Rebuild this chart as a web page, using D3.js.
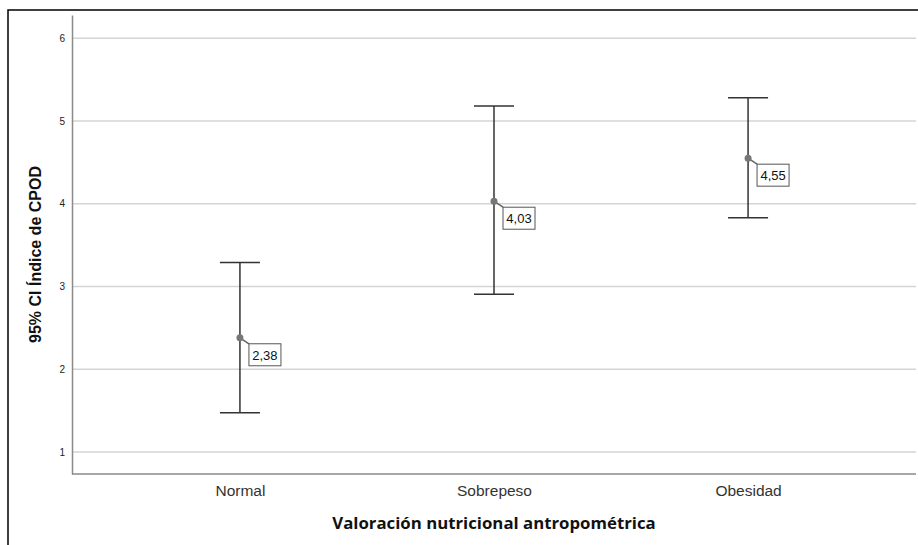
<!DOCTYPE html>
<html>
<head>
<meta charset="utf-8">
<script src="https://cdn.jsdelivr.net/npm/d3@7"></script>
<style>
  body { margin: 0; background: #fff; }
  svg { display: block; }
</style>
</head>
<body>
<svg id="chart" width="918" height="545"></svg>
<script>
// categories and CI values
const categories = ["Normal", "Sobrepeso", "Obesidad"];
const means = [2.38, 4.03, 4.55];
const lower = [1.475, 2.905, 3.83];
const upper = [3.29, 5.18, 5.28];
const meanLabels = ["2,38", "4,03", "4,55"];
const yTicks = [1, 2, 3, 4, 5, 6];

const svg = d3.select("#chart");

// plot area bounds
const plotLeft = 72, plotRight = 916, plotTop = 15, plotBottom = 474;

const x = d3.scalePoint().domain(categories).range([plotLeft, plotRight]).padding(0.661);
const y = d3.scaleLinear().domain([0.734, 6.28]).range([plotBottom, plotTop]);

// outer frame (only top and left edges are visible)
svg.append("path")
  .attr("d", `M8,545 V10 H918`)
  .attr("fill", "none")
  .attr("stroke", "#000")
  .attr("stroke-width", 1.5);

// gridlines
svg.append("g")
  .selectAll("line")
  .data(yTicks)
  .join("line")
  .attr("x1", plotLeft).attr("x2", plotRight)
  .attr("y1", d => y(d)).attr("y2", d => y(d))
  .attr("stroke", "#d4d4d4")
  .attr("stroke-width", 1.5);

// y axis
const yAxis = svg.append("g")
  .attr("transform", `translate(${plotLeft},0)`)
  .call(d3.axisLeft(y).tickValues(yTicks).tickSize(0).tickPadding(7).tickFormat(d3.format("d")));
yAxis.select(".domain").attr("stroke", "#8a8a8a").attr("stroke-width", 1.5);
yAxis.selectAll("text")
  .attr("font-family", "Liberation Sans, Arial, sans-serif")
  .attr("font-size", 10)
  .attr("fill", "#222");

// x axis
const xAxis = svg.append("g")
  .attr("transform", `translate(0,${plotBottom})`)
  .call(d3.axisBottom(x).tickSize(0).tickPadding(11));
xAxis.select(".domain").attr("stroke", "#8a8a8a").attr("stroke-width", 1.5)
  .attr("d", `M${plotLeft},0H${plotRight}`);
xAxis.selectAll("text")
  .attr("font-family", "Liberation Sans, Arial, sans-serif")
  .attr("font-size", 15.5)
  .attr("fill", "#333");

// error bars
const capHalf = 20;
const bars = svg.append("g")
  .selectAll("g")
  .data(categories)
  .join("g");

bars.append("line")
  .attr("x1", d => x(d)).attr("x2", d => x(d))
  .attr("y1", (d, i) => y(upper[i])).attr("y2", (d, i) => y(lower[i]))
  .attr("stroke", "#333").attr("stroke-width", 1.5);

bars.append("line")
  .attr("x1", d => x(d) - capHalf).attr("x2", d => x(d) + capHalf)
  .attr("y1", (d, i) => y(upper[i])).attr("y2", (d, i) => y(upper[i]))
  .attr("stroke", "#333").attr("stroke-width", 1.5);

bars.append("line")
  .attr("x1", d => x(d) - capHalf).attr("x2", d => x(d) + capHalf)
  .attr("y1", (d, i) => y(lower[i])).attr("y2", (d, i) => y(lower[i]))
  .attr("stroke", "#333").attr("stroke-width", 1.5);

// leader line from mean to label box
bars.append("line")
  .attr("x1", d => x(d)).attr("y1", (d, i) => y(means[i]))
  .attr("x2", d => x(d) + 9).attr("y2", (d, i) => y(means[i]) + 6)
  .attr("stroke", "#666").attr("stroke-width", 1.5);

bars.append("circle")
  .attr("cx", d => x(d)).attr("cy", (d, i) => y(means[i]))
  .attr("r", 3.5)
  .attr("fill", "#777");

// label boxes
bars.append("rect")
  .attr("x", d => x(d) + 9).attr("y", (d, i) => y(means[i]) + 6)
  .attr("width", 32).attr("height", 22)
  .attr("fill", "#fff")
  .attr("stroke", "#555").attr("stroke-width", 1);

bars.append("text")
  .attr("x", d => x(d) + 25).attr("y", (d, i) => y(means[i]) + 22)
  .attr("text-anchor", "middle")
  .attr("font-family", "Liberation Sans, Arial, sans-serif")
  .attr("font-size", 13)
  .attr("fill", "#111")
  .text((d, i) => meanLabels[i]);

// axis titles
svg.append("text")
  .attr("transform", `translate(41,${(plotTop + plotBottom) / 2 + 10}) rotate(-90)`)
  .attr("text-anchor", "middle")
  .attr("font-family", "Liberation Sans, Arial, sans-serif")
  .attr("font-weight", "bold")
  .attr("font-size", 16)
  .attr("fill", "#111")
  .text("95% CI Índice de CPOD");

svg.append("text")
  .attr("x", (plotLeft + plotRight) / 2)
  .attr("y", 529)
  .attr("text-anchor", "middle")
  .attr("font-family", "Open Sans, sans-serif")
  .attr("font-weight", "bold")
  .attr("font-size", 16.8)
  .attr("fill", "#111")
  .text("Valoración nutricional antropométrica");
</script>
</body>
</html>
